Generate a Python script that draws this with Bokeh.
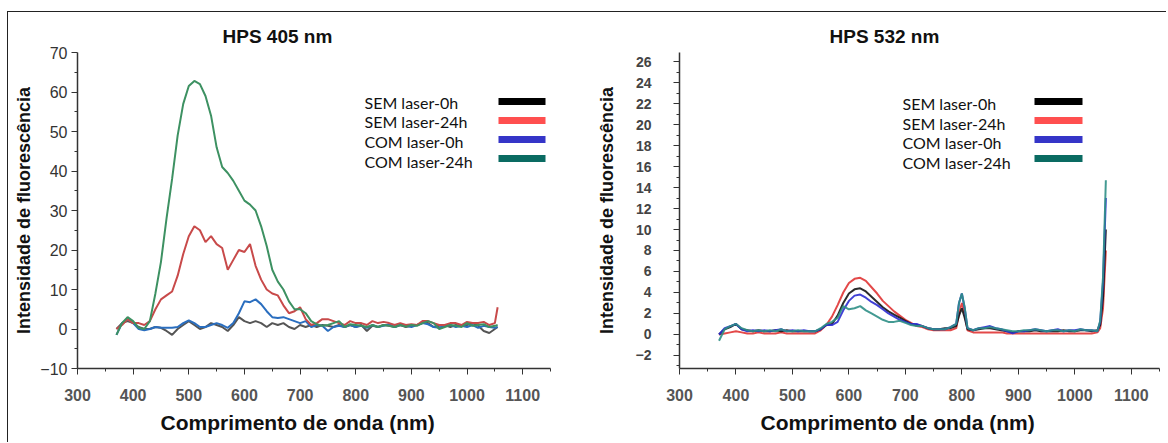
from bokeh.plotting import figure
from bokeh.models import Label, BoxAnnotation, Range1d, FixedTicker, Title
from bokeh.layouts import row
from bokeh.embed import file_html
from bokeh.resources import INLINE

# ---------------- data ----------------
series_names = ["SEM laser-0h", "SEM laser-24h", "COM laser-0h", "COM laser-24h"]

x_ticks = [300, 400, 500, 600, 700, 800, 900, 1000, 1100]

# HPS 405 nm
wl_405 = [370, 380, 390, 400, 410, 420, 430, 440, 450, 460, 470, 480, 490, 500,
          510, 520, 530, 540, 550, 560, 570, 580, 590, 600, 610, 620, 630, 640,
          650, 660, 670, 680, 690, 700, 710, 720, 730, 740, 750, 760, 770, 780,
          790, 800, 810, 820, 830, 840, 850, 860, 870, 880, 890, 900, 910, 920,
          930, 940, 950, 960, 970, 980, 990, 1000, 1010, 1020, 1030, 1040, 1050, 1055]
sem0_405 = [0.0, 1.5, 2.0, 1.5, 0.5, 0.0, 0.0, 0.5, 0.3, -0.5, -1.5, 0.0, 1.0, 2.0,
            1.0, 0.0, 0.5, 1.5, 1.0, 0.5, -0.5, 1.0, 3.0, 2.0, 1.5, 2.0, 1.5, 0.5,
            1.5, 1.0, 1.5, 0.5, 0.0, 1.0, 0.5, 1.0, 0.5, 1.0, 0.8, 0.5, 1.0, 0.5,
            1.0, 0.5, 1.0, -0.5, 0.8, 0.5, 1.0, 0.8, 0.5, 1.0, 0.5, 0.8, 1.0, 1.5,
            1.5, 0.5, 0.8, 1.0, 0.5, 1.0, 0.8, 1.0, 1.5, 0.8, -0.5, -1.0, 0.0, 0.5]
sem24_405 = [0.0, 1.0, 2.5, 1.5, 1.5, 1.0, 2.0, 5.0, 7.5, 8.5, 9.5, 13.5, 19.0, 23.5,
             26.0, 25.0, 22.0, 23.5, 21.5, 20.5, 15.0, 17.5, 20.0, 19.5, 21.5, 16.0, 12.5, 10.0,
             9.0, 8.5, 6.0, 4.0, 4.5, 5.5, 2.5, 1.0, 1.5, 2.5, 2.5, 2.0, 1.5, 1.0,
             2.0, 1.5, 1.5, 1.0, 2.0, 1.5, 1.8, 1.5, 1.0, 1.5, 1.0, 1.2, 1.0, 2.0,
             2.0, 1.5, 1.0, 1.0, 1.5, 1.5, 1.0, 1.8, 1.5, 1.5, 1.8, 1.0, 1.5, 5.5]
com0_405 = [-1.5, 1.5, 2.5, 1.5, 0.0, -0.3, 0.0, 0.5, 0.3, 0.3, 0.3, 0.5, 1.5, 2.2,
            1.5, 0.5, 0.5, 1.0, 1.5, 1.0, 0.3, 1.5, 4.0, 7.0, 6.8, 7.5, 6.3, 4.5,
            3.0, 2.8, 3.0, 2.5, 2.0, 1.5, 2.0, 0.5, 1.0, 0.8, -0.5, 0.5, 0.8, 0.5,
            1.0, 0.5, 0.8, 0.3, 1.0, 0.5, 0.8, 1.2, 0.5, 1.0, 0.8, 0.5, 1.0, 1.5,
            1.2, 0.5, 0.3, 0.8, 1.0, 0.5, 0.8, 0.5, 1.0, 0.3, 0.8, 0.5, 0.3, 0.5]
com24_405 = [-1.5, 1.5, 3.0, 2.0, 0.3, 0.0, 2.0, 9.0, 17.0, 28.0, 38.0, 49.0, 57.0, 61.5,
             62.8, 62.0, 59.0, 54.0, 46.0, 41.0, 39.5, 37.5, 35.0, 32.5, 31.5, 30.0, 26.0, 21.0,
             15.0, 12.0, 10.0, 7.0, 5.0, 5.0, 4.0, 2.0, 1.2, 0.8, 1.0, 1.5, 2.0, 0.5,
             1.2, 1.0, 0.8, 0.5, 1.0, 0.5, 1.0, 0.8, 0.5, 1.0, 0.6, 1.0, 0.8, 1.5,
             2.0, 1.5, 0.0, 0.5, 1.0, 0.8, 0.5, 1.5, 0.8, 1.0, 1.2, 0.5, 0.8, 1.0]
y_ticks_405 = [-10, 0, 10, 20, 30, 40, 50, 60, 70]

# HPS 532 nm
wl_532 = [370, 380, 390, 400, 410, 420, 430, 440, 450, 460, 470, 480, 490, 500,
          510, 520, 530, 540, 550, 560, 570, 580, 590, 600, 610, 620, 630, 640,
          650, 660, 670, 680, 690, 700, 710, 720, 730, 740, 750, 760, 770, 780,
          790, 795, 800, 805, 810, 820, 830, 840, 850, 860, 870, 880, 890, 900,
          910, 920, 930, 940, 950, 960, 970, 980, 990, 1000, 1010, 1020, 1030, 1040,
          1045, 1050, 1055]
sem0_532 = [0.0, 0.5, 0.7, 1.0, 0.5, 0.4, 0.3, 0.4, 0.3, 0.3, 0.4, 0.3, 0.4, 0.3,
            0.3, 0.3, 0.3, 0.3, 0.5, 0.9, 1.0, 1.8, 3.0, 3.9, 4.3, 4.4, 4.1, 3.6,
            3.1, 2.6, 2.2, 1.9, 1.6, 1.3, 1.0, 0.9, 0.8, 0.6, 0.5, 0.5, 0.6, 0.6,
            0.8, 1.8, 2.5, 1.6, 0.5, 0.4, 0.5, 0.6, 0.6, 0.5, 0.4, 0.3, 0.2, 0.3,
            0.3, 0.3, 0.4, 0.3, 0.3, 0.3, 0.3, 0.4, 0.3, 0.3, 0.4, 0.4, 0.3, 0.4,
            0.9, 3.5, 10.0]
sem24_532 = [0.0, 0.1, 0.2, 0.3, 0.2, 0.1, 0.1, 0.2, 0.1, 0.1, 0.1, 0.2, 0.1, 0.1,
             0.1, 0.1, 0.1, 0.1, 0.4, 0.9, 1.7, 2.8, 4.0, 4.9, 5.3, 5.4, 5.1, 4.5,
             3.9, 3.2, 2.7, 2.2, 1.8, 1.4, 1.1, 0.8, 0.7, 0.5, 0.4, 0.4, 0.4, 0.4,
             0.6, 2.0, 3.0, 2.0, 0.4, 0.2, 0.2, 0.2, 0.2, 0.2, 0.2, 0.1, 0.1, 0.1,
             0.1, 0.1, 0.1, 0.1, 0.1, 0.1, 0.1, 0.1, 0.1, 0.1, 0.1, 0.1, 0.1, 0.2,
             0.6, 2.5, 8.0]
com0_532 = [0.0, 0.6, 0.8, 1.0, 0.5, 0.3, 0.4, 0.3, 0.4, 0.3, 0.4, 0.5, 0.3, 0.4,
            0.3, 0.4, 0.3, 0.3, 0.5, 0.9, 0.9, 1.2, 2.3, 3.2, 3.7, 3.8, 3.5, 3.1,
            2.8, 2.4, 2.0, 1.7, 1.4, 1.2, 1.0, 1.0, 0.8, 0.6, 0.5, 0.5, 0.5, 0.7,
            1.0, 3.0, 3.9, 2.5, 0.6, 0.4, 0.6, 0.7, 0.8, 0.6, 0.5, 0.3, 0.1, 0.3,
            0.3, 0.4, 0.5, 0.4, 0.3, 0.4, 0.5, 0.3, 0.4, 0.4, 0.5, 0.4, 0.4, 0.3,
            1.2, 5.0, 13.0]
com24_532 = [-0.6, 0.5, 0.8, 1.0, 0.6, 0.4, 0.3, 0.4, 0.3, 0.4, 0.3, 0.5, 0.3, 0.3,
             0.4, 0.3, 0.3, 0.3, 0.6, 1.0, 1.2, 1.6, 2.7, 2.4, 2.5, 2.7, 2.3, 2.0,
             1.7, 1.4, 1.2, 1.2, 1.3, 1.1, 0.9, 0.8, 0.8, 0.6, 0.5, 0.5, 0.5, 0.7,
             1.0, 3.0, 3.9, 2.6, 0.6, 0.4, 0.6, 0.6, 0.7, 0.6, 0.5, 0.4, 0.3, 0.3,
             0.4, 0.4, 0.5, 0.4, 0.3, 0.4, 0.4, 0.3, 0.4, 0.3, 0.5, 0.4, 0.4, 0.3,
             1.3, 5.5, 14.7]
y_ticks_532 = [-2, 0, 2, 4, 6, 8, 10, 12, 14, 16, 18, 20, 22, 24, 26]

# ---------------- styles ----------------
FONT = "Liberation Sans"
LEG_FONT = "Lato"
swatch_colors = ["#000000", "#ff4f4f", "#3535c8", "#0a6b62"]
line_colors_405 = ["#555555", "#c84a4a", "#2a6ebf", "#3d9162"]
line_colors_532 = ["#151515", "#e03535", "#2b2bd0", "#2f8f86"]


def base_fig(width, height, yr, mbl, mbr, title, t_off, xt_off):
    p = figure(width=width, height=height, x_range=Range1d(300, 1150),
               y_range=Range1d(*yr), output_backend="svg", toolbar_location=None,
               min_border_left=mbl, min_border_right=mbr, min_border_top=40,
               min_border_bottom=74, title=None)
    p.xgrid.visible = False
    p.ygrid.visible = False
    p.outline_line_color = None
    p.background_fill_color = "white"
    p.border_fill_color = "white"
    p.xaxis.ticker = FixedTicker(ticks=x_ticks,
                                 minor_ticks=[350, 450, 550, 650, 750, 850, 950, 1050, 1150])
    for ax in (p.xaxis[0], p.yaxis[0]):
        ax.axis_line_color = "#333333"
        ax.axis_line_width = 1.5
        ax.major_tick_line_color = "#333333"
        ax.minor_tick_line_color = "#333333"
        ax.major_tick_in = 0
        ax.major_tick_out = 6
        ax.minor_tick_in = 0
        ax.minor_tick_out = 3
        ax.axis_label_text_font = FONT
        ax.axis_label_text_font_style = "bold"
        ax.axis_label_text_color = "#111111"
        ax.major_label_text_font = FONT
    p.xaxis.major_label_text_font_size = "16px"
    p.xaxis.major_label_text_font_style = "bold"
    p.xaxis.major_label_text_color = "#555555"
    p.xaxis.major_label_standoff = 14
    p.yaxis.axis_label = "Intensidade de fluorescência"
    p.yaxis.axis_label_text_font_size = "18px"
    # chart title
    p.add_layout(Title(text=title, align="left", offset=t_off, standoff=11,
                       text_font=FONT, text_font_size="19px", text_font_style="bold",
                       text_color="#111111"), "above")
    # x axis title (a below panel so it can sit where the original had it)
    p.add_layout(Title(text="Comprimento de onda (nm)", align="left", offset=xt_off,
                       standoff=10, text_font=FONT, text_font_size="21px",
                       text_font_style="bold", text_color="#111111"), "below")
    return p


def add_legend(p, tx, ty, sx0, sx1, sy):
    for i, name in enumerate(series_names):
        p.add_layout(Label(x=tx, y=ty[i], x_units="screen", y_units="screen", text=name,
                           text_font=LEG_FONT, text_font_size="16px", text_color="#111111",
                           text_baseline="middle"))
        p.add_layout(BoxAnnotation(left=sx0, right=sx1, bottom=sy[i] - 3.5, top=sy[i] + 3.5,
                                   left_units="screen", right_units="screen",
                                   bottom_units="screen", top_units="screen",
                                   fill_color=swatch_colors[i], fill_alpha=1.0,
                                   line_color=None))


# ---------------- left: HPS 405 nm ----------------
p1 = base_fig(572, 430, (-10, 70), 69, 30, "HPS 405 nm", 145, 83)
p1.yaxis.ticker = FixedTicker(ticks=y_ticks_405,
                              minor_ticks=[-5, 5, 15, 25, 35, 45, 55, 65])
p1.yaxis.major_label_text_font_size = "16px"
p1.yaxis.major_label_text_color = "#333333"
p1.yaxis.major_label_standoff = 4
p1.yaxis.axis_label_standoff = 3
for vals, col in zip([sem0_405, com0_405, sem24_405, com24_405],
                     [line_colors_405[0], line_colors_405[2], line_colors_405[1], line_colors_405[3]]):
    p1.line(wl_405, vals, line_color=col, line_width=2)
add_legend(p1, 287, [266, 247, 227, 207], 421, 468, [267, 248, 229, 210])

# ---------------- right: HPS 532 nm ----------------
p2 = base_fig(586, 430, (-3.24, 26.86), 99, 7, "HPS 532 nm", 150, 81)
p2.yaxis.ticker = FixedTicker(ticks=y_ticks_532,
                              minor_ticks=[-3, -1, 1, 3, 5, 7, 9, 11, 13, 15, 17, 19, 21, 23, 25])
p2.yaxis.major_label_text_font_size = "14px"
p2.yaxis.major_label_text_font_style = "bold"
p2.yaxis.major_label_text_color = "#444444"
p2.yaxis.major_label_standoff = 22
p2.yaxis.axis_label_standoff = 16
for vals, col in zip([sem24_532, sem0_532, com0_532, com24_532],
                     [line_colors_532[1], line_colors_532[0], line_colors_532[2], line_colors_532[3]]):
    p2.line(wl_532, vals, line_color=col, line_width=2, line_alpha=0.9)
add_legend(p2, 223, [265, 245, 226, 206], 355, 403, [267, 248, 229, 210])

layout = row(p1, p2, margin=(11, 0, 0, 7),
             styles={"border-top": "1px solid #222", "border-left": "1px solid #222"})

open("out.html", "w").write(file_html(layout, INLINE))
